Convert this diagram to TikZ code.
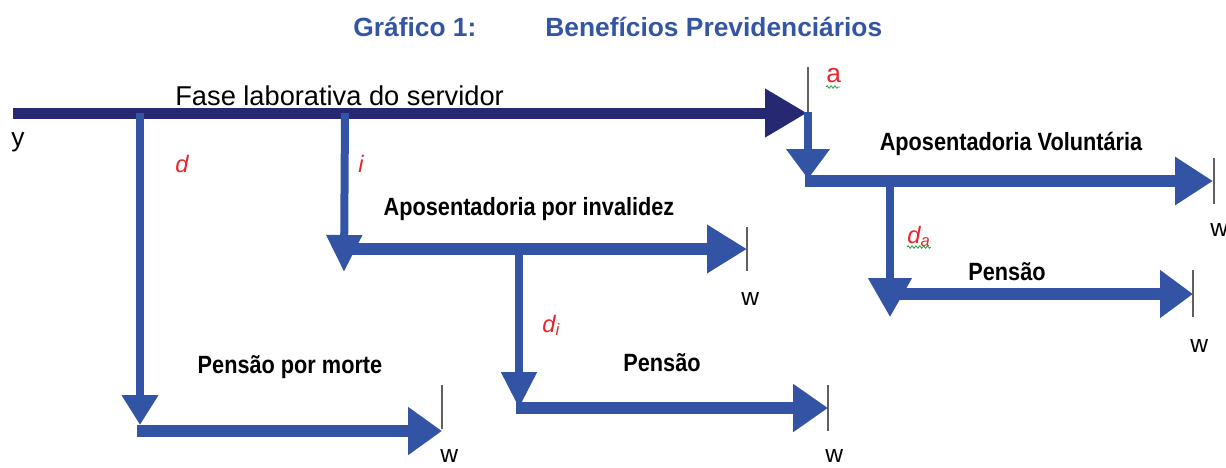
\documentclass[tikz,border=0pt]{standalone}
\usepackage{fontspec}
\setmainfont{Liberation Sans}
\newfontfamily\condbold[FakeStretch=0.87]{Liberation Sans}
\usetikzlibrary{arrows.meta,decorations.pathmorphing}
\definecolor{navy}{HTML}{262872}
\definecolor{rblue}{HTML}{3354A4}
\definecolor{lred}{HTML}{E8262C}
\definecolor{tickgray}{HTML}{606060}
\definecolor{sqgreen}{HTML}{3A9D4A}
\definecolor{titleblue}{HTML}{3355A3}
\tikzset{
  mainline/.style={draw=navy, line width=0.22cm, -{Triangle[length=0.84cm,width=0.92cm]}},
  hline/.style={draw=rblue, line width=0.24cm, -{Triangle[length=#1,width=0.92cm]}},
  hline/.default=0.76cm,
  vline/.style 2 args={draw=rblue, line width=0.16cm, -{Triangle[length=#1,width=#2]}},
  tickline/.style={draw=tickgray, line width=0.7pt},
  lbl/.style={inner sep=0pt, anchor=base, font=\condbold\bfseries\fontsize{14.2}{16}\selectfont},
  redlbl/.style={inner sep=0pt, anchor=base west, text=lred, font=\itshape\fontsize{13.5}{16}\selectfont},
  wlbl/.style={inner sep=0pt, anchor=base west, font=\fontsize{14}{16}\selectfont},
  squig/.style={draw=sqgreen, line width=0.5pt, decorate, decoration={snake, amplitude=0.7pt, segment length=2.2pt}},
  titlelbl/.style={inner sep=0pt, anchor=base west, text=titleblue, font=\bfseries\fontsize{15}{17}\selectfont}
}
\begin{document}
\begin{tikzpicture}[x=0.02cm,y=-0.02cm]
\useasboundingbox (0,0) rectangle (1226,467);
% junctions and ends
\coordinate (start) at (13,113);
\coordinate (aTip) at (807,113);
\coordinate (dTop) at (140,113);
\coordinate (dTip) at (140,425);
\coordinate (dL) at (137,431);
\coordinate (dEnd) at (442,431);
\coordinate (iTop) at (345,113);
\coordinate (iTip) at (344,272);
\coordinate (iL) at (345,249);
\coordinate (iEnd) at (747,249);
\coordinate (diTop) at (519,249);
\coordinate (diTip) at (519,408);
\coordinate (diL) at (516,408);
\coordinate (diEnd) at (828,408);
\coordinate (aTop) at (808,112);
\coordinate (avTip) at (808,179);
\coordinate (avL) at (805,181);
\coordinate (avEnd) at (1213,181);
\coordinate (daTop) at (890,181);
\coordinate (daTip) at (890,317);
\coordinate (daL) at (886,294);
\coordinate (daEnd) at (1193,294);
% ticks
\coordinate (t1a) at (808,67);   \coordinate (t1b) at (808,112);
\coordinate (t2a) at (1214,158); \coordinate (t2b) at (1214,204);
\coordinate (t3a) at (747,227);  \coordinate (t3b) at (747,271);
\coordinate (t4a) at (828,385);  \coordinate (t4b) at (828,431);
\coordinate (t5a) at (442,385);  \coordinate (t5b) at (442,429);
\coordinate (t6a) at (1193,270); \coordinate (t6b) at (1193,317);

% title
\node[titlelbl] (title1) at (353,36) {Gráfico 1:};
\node[titlelbl] (title2) at (545,36) {Benefícios Previdenciários};

% main line
\draw[mainline] (start) -- (aTip);

% horizontal branches
\draw[hline=0.76cm] (avL) -- (avEnd);
\draw[hline=0.68cm] (dL) -- (dEnd);
\draw[hline=0.80cm] (iL) -- (iEnd);
\draw[hline=0.70cm] (diL) -- (diEnd);
\draw[hline=0.66cm] (daL) -- (daEnd);

% vertical branches
\draw[vline={0.60cm}{0.70cm}] (dTop) -- (dTip);
\draw[vline={0.74cm}{0.68cm}] (iTop) -- (iTip);
\draw[vline={0.72cm}{0.68cm}] (diTop) -- (diTip);
\draw[vline={0.60cm}{0.84cm}] (aTop) -- (avTip);
\draw[vline={0.78cm}{0.84cm}] (daTop) -- (daTip);

% ticks
\draw[tickline] (t1a) -- (t1b);
\draw[tickline] (t2a) -- (t2b);
\draw[tickline] (t3a) -- (t3b);
\draw[tickline] (t4a) -- (t4b);
\draw[tickline] (t5a) -- (t5b);
\draw[tickline] (t6a) -- (t6b);

% labels
\node[inner sep=0pt, anchor=base west, font=\fontsize{15.5}{18}\selectfont] (fase) at (175,105) {Fase laborativa do servidor};
\node[inner sep=0pt, anchor=base west, font=\fontsize{15}{18}\selectfont] (ylbl) at (11,146) {y};
\node[redlbl] (dlbl) at (175,172) {d};
\node[redlbl] (ilbl) at (358,172) {i};
\node[redlbl, font=\fontsize{15}{18}\selectfont] (albl) at (826,82) {a};
\draw[squig] (826,87) -- (840,87);
\node[redlbl] (dilbl) at (542,332) {d\textsubscript{i}};
\node[redlbl] (dalbl) at (907,243) {d\textsubscript{a}};
\draw[squig] (907,247) -- (931,247);

\node[lbl] (volun) at (1011,150) {Aposentadoria Voluntária};
\node[lbl] (inval) at (529,215) {Aposentadoria por invalidez};
\node[lbl] (morte) at (290,373) {Pensão por morte};
\node[lbl] (pensi) at (662,371) {Pensão};
\node[lbl] (pensa) at (1007,280) {Pensão};

\node[wlbl] (w1) at (440,462) {w};
\node[wlbl] (w2) at (741,305) {w};
\node[wlbl] (w3) at (825,462) {w};
\node[wlbl] (w4) at (1210,236) {w};
\node[wlbl] (w5) at (1190,352) {w};
\end{tikzpicture}
\end{document}
